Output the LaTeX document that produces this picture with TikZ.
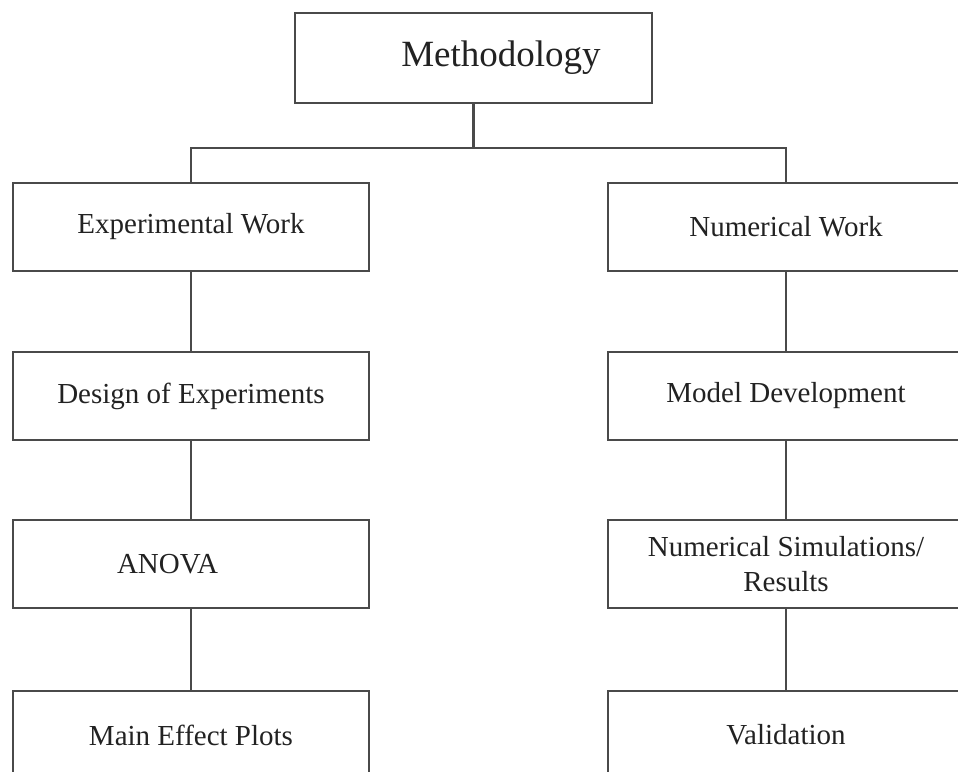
\documentclass[tikz,border=0pt]{standalone}
\usepackage{fontspec}
\setmainfont{Liberation Serif}
\definecolor{linegray}{HTML}{4A4A4A}
\definecolor{txtgray}{HTML}{222222}
\begin{document}
\begin{tikzpicture}[x=1pt,y=-1pt,
  box/.style={draw=linegray, line width=2.4pt, rectangle, minimum width=356pt, minimum height=88pt, inner sep=0pt, text=txtgray, font=\fontsize{29}{35}\selectfont, align=center},
  topbox/.style={box, minimum width=357pt, minimum height=90pt, font=\fontsize{37}{44}\selectfont},
  link/.style={draw=linegray, line width=2.4pt}]
\useasboundingbox (0,0) rectangle (958,771);
\fill[white] (0,0) rectangle (958,771);
\node[topbox] (meth) at (473.5,58) {\hspace*{55pt}Methodology};
\node[box] (exp) at (191,227) {Experimental Work};
\node[box] (doe) at (191,396) {Design of Experiments};
\node[box] (anova) at (191,564) {ANOVA\hspace*{47pt}};
\node[box] (mep) at (191,735) {Main Effect Plots};
\node[box] (num) at (786,227) {Numerical Work};
\node[box] (mod) at (786,396) {Model Development};
\node[box] (sim) at (786,564) {Numerical Simulations/\\Results};
\node[box] (val) at (786,735) {Validation};
\draw[link] (meth.south) -- ++(0,44) coordinate (j);
\draw[link] (exp.north) |- (j) -| (num.north);
\draw[link] (exp) -- (doe);
\draw[link] (doe) -- (anova);
\draw[link] (anova) -- (mep);
\draw[link] (num) -- (mod);
\draw[link] (mod) -- (sim);
\draw[link] (sim) -- (val);
\end{tikzpicture}
\end{document}
